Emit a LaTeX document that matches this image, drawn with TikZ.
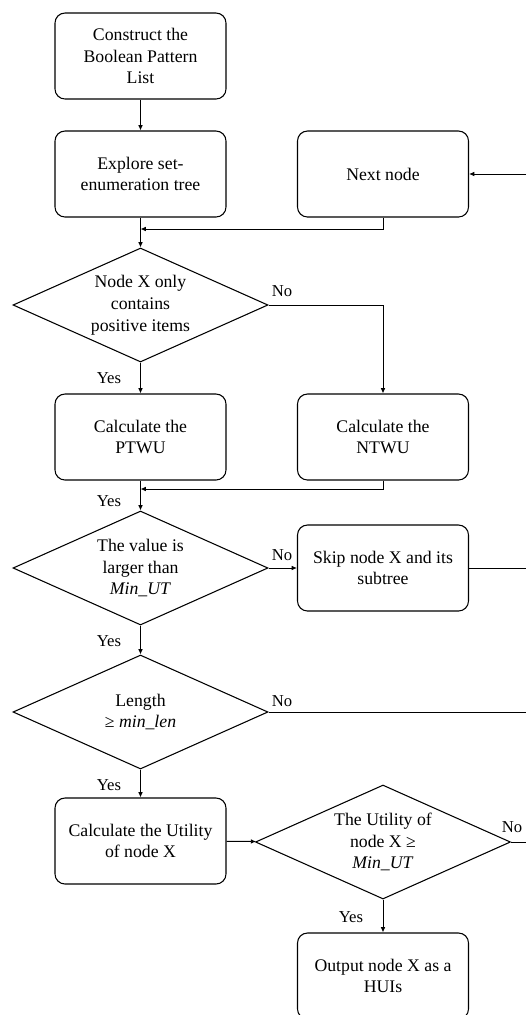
\documentclass[tikz,border=0pt]{standalone}
\usepackage{fontspec}
\setmainfont{Liberation Serif}
\usetikzlibrary{shapes.geometric,arrows.meta}
\begin{document}
\begin{tikzpicture}[x=0.75pt,y=-0.75pt,
    blk/.style ={rectangle,rounded corners=7.5pt,draw,line width=0.8pt,align=center,
      minimum width=128.25pt,minimum height=64.5pt,inner sep=2pt,font=\fontsize{13.3}{16.3}\selectfont},
    dec/.style ={diamond,draw,line width=0.8pt,align=center,aspect=2.24,inner sep=0pt,
      minimum width=191.25pt,minimum height=85.5pt,font=\fontsize{13.3}{16.3}\selectfont},
    lbl/.style ={inner sep=0pt,font=\fontsize{12.5}{15}\selectfont},
    arr/.style ={line width=0.7pt,-{Latex[length=4pt,width=3.5pt]}},
    ln/.style ={line width=0.7pt}]
  \useasboundingbox (0,0) rectangle (526,1015);
  \node[blk] (bpl) at (140.5,56) {Construct the\\Boolean Pattern\\List};
  \node[blk] (expl) at (140.5,174) {Explore set-\\enumeration tree};
  \node[blk] (next) at (383,174) {Next node};
  \node[dec] (pos) at (140.5,305) {Node X only\\contains\\positive items};
  \node[blk] (ptwu) at (140.5,437) {Calculate the\\PTWU};
  \node[blk] (ntwu) at (383,437) {Calculate the\\NTWU};
  \node[dec] (val) at (140.5,568) {The value is\\larger than\\\textit{Min\_UT}};
  \node[blk] (skip) at (383,568) {Skip node X and its\\subtree};
  \node[dec] (len) at (140.5,712) {Length\\≥ \textit{min\_len}};
  \node[blk] (util) at (140.5,841) {Calculate the Utility\\of node X};
  \node[dec] (uchk) at (383,842) {The Utility of\\node X ≥\\\textit{Min\_UT}};
  \node[blk] (out) at (383,976) {Output node X as a\\HUIs};
  \coordinate (m1) at (140.5,229);
  \coordinate (m2) at (140.5,489);
  \coordinate (r1) at (526,174);
  \coordinate (r2) at (526,568);
  \coordinate (r3) at (526,712);
  \coordinate (r4) at (526,842);
  \node[lbl] (no1) at (282,291) {No};
  \node[lbl] (yes1) at (109,378) {Yes};
  \node[lbl] (yes2) at (109,501) {Yes};
  \node[lbl] (no2) at (282,555) {No};
  \node[lbl] (yes3) at (109,641) {Yes};
  \node[lbl] (no3) at (282,701) {No};
  \node[lbl] (yes4) at (109,785) {Yes};
  \node[lbl] (no4) at (512,827) {No};
  \node[lbl] (yes5) at (351,917) {Yes};
  \draw[arr] (bpl) -- (expl);
  \draw[arr] (r1) -- (next);
  \draw[arr] (next.south) |- (m1);
  \draw[arr] (expl) -- (pos);
  \draw[arr] (pos) -- (ptwu);
  \draw[arr] (pos.east) -| (ntwu.north);
  \draw[arr] (ntwu.south) |- (m2);
  \draw[arr] (ptwu) -- (val);
  \draw[arr] (val) -- (skip);
  \draw[ln] (skip) -- (r2);
  \draw[arr] (val) -- (len);
  \draw[ln] (len.east) -- (r3);
  \draw[arr] (len) -- (util);
  \draw[arr] (util) -- (uchk);
  \draw[ln] (uchk.east) -- (r4);
  \draw[arr] (uchk) -- (out);
\end{tikzpicture}
\end{document}
